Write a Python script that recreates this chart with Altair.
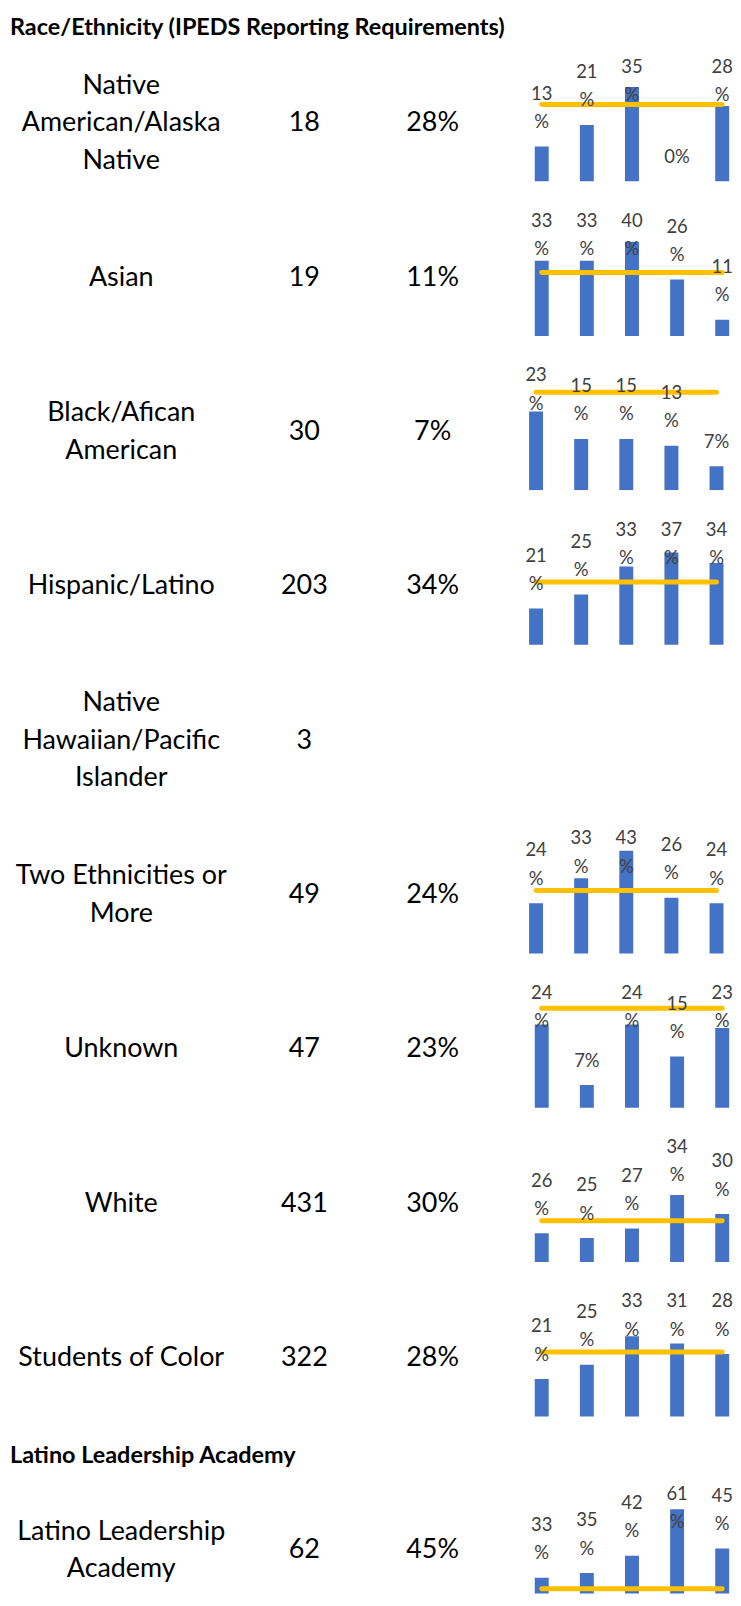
import altair as alt
import pandas as pd

# ---------------- data ----------------
YEARS = ["Y1", "Y2", "Y3", "Y4", "Y5"]
TITLE = "Race/Ethnicity (IPEDS Reporting Requirements)"
GROUPS = [
    "Native\nAmerican/Alaska\nNative",
    "Asian",
    "Black/Afican\nAmerican",
    "Hispanic/Latino",
    "Native\nHawaiian/Pacific\nIslander",
    "Two Ethnicities or\nMore",
    "Unknown",
    "White",
    "Students of Color",
]
COUNTS = [18, 19, 30, 203, 3, 49, 47, 431, 322]
PCTS = [28, 11, 7, 34, None, 24, 23, 30, 28]
RATES = [
    [13, 21, 35, 0, 28],
    [33, 33, 40, 26, 11],
    [23, 15, 15, 13, 7],
    [21, 25, 33, 37, 34],
    None,
    [24, 33, 43, 26, 24],
    [24, 7, 24, 15, 23],
    [26, 25, 27, 34, 30],
    [21, 25, 33, 31, 28],
]
OVERALL = 28.6

LLA_HEADER = "Latino Leadership Academy"
LLA_GROUP = "Latino Leadership\nAcademy"
LLA_COUNT = 62
LLA_PCT = 45
LLA_RATES = [33, 35, 42, 61, 45]

# ---------------- style / layout ----------------
FONT = "Lato"
BLUE = "#4472C4"
GOLD = "#FFC000"
LABEL_GRAY = "#404040"
ROW_H = 155
BAR_H = 136
COL_W = [227.4, 139.2, 116.8, 35.6]
BAR_W = 205.4
LH_MAIN = 37.5
LH_LAB = 28.5
HEADER_SIZE = 23.5
# per sparkline: value at the bottom edge of the cell, pixels per percentage point
YFIT = [(0, 2.71), (5, 2.70), (0, 3.44), (10.7, 3.52), None, (5.8, 2.77),
        (0.6, 3.57), (20, 4.82), (10.5, 3.58)]
# horizontal placement of the bar group inside its cell (band-scale align)
XALIGN = [0.78, 0.78, 0.22, 0.22, None, 0.22, 0.78, 0.78, 0.78]
LAST_H = 120.8
LLA_FIT = (26.6, 2.46)


def blank(width=1):
    df = pd.DataFrame({"t": [""]})
    return alt.Chart(df).mark_text().encode(text="t:N").properties(width=width, height=1)


def text_cell(text, width, height, extra_dy=0, size=27):
    n_lines = text.count("\n") + 1
    df = pd.DataFrame({"t": [text]})
    return (
        alt.Chart(df)
        .mark_text(font=FONT, fontSize=size, lineBreak="\n", lineHeight=LH_MAIN,
                   baseline="middle", align="center", color="black",
                   dy=-(n_lines - 1) * LH_MAIN / 2 + extra_dy)
        .encode(text="t:N")
        .properties(width=width, height=height)
    )


def header(text, height, dy):
    df = pd.DataFrame({"t": [text]})
    return (
        alt.Chart(df)
        .mark_text(font=FONT, fontSize=HEADER_SIZE, fontWeight="bold", baseline="middle",
                   align="left", color="black", dy=dy)
        .encode(text="t:N", x=alt.value(2))
        .properties(width=COL_W[0], height=height)
    )


def spark(rates, fit, height, xalign):
    dmin, k = fit
    dmax = dmin + height / k
    cap = dmax - 73.5 / k
    df = pd.DataFrame({"yr": YEARS, "v": rates, "avg": [OVERALL] * len(YEARS)})
    x = alt.X("yr:N", axis=None, sort=YEARS,
              scale=alt.Scale(paddingInner=0.691, paddingOuter=0.1125, align=xalign))
    ys = alt.Scale(domain=[dmin, dmax], nice=False, zero=False)
    base = alt.Chart(df)
    bars = base.mark_bar(color=BLUE, clip=True).encode(
        x=x, y=alt.Y("v:Q", axis=None, scale=ys))
    line = base.mark_line(color=GOLD, strokeWidth=5, strokeCap="round").encode(
        x=x, y=alt.Y("avg:Q", axis=None, scale=ys))
    lab_common = dict(font=FONT, fontSize=18.5, lineBreak="\n", lineHeight=LH_LAB,
                      baseline="middle", align="center", color=LABEL_GRAY)
    # two-line labels ("13" over "%") and single-line labels ("7%")
    two = (
        base.transform_filter("datum.v >= 10")
        .transform_calculate(ly=f"min(datum.v, {cap})", lab="datum.v + '\\n%'")
        .mark_text(dy=-53, **lab_common)
        .encode(x=x, y=alt.Y("ly:Q", axis=None, scale=ys), text="lab:N")
    )
    one = (
        base.transform_filter("datum.v < 10")
        .transform_calculate(lab="datum.v + '%'")
        .mark_text(dy=-24.5, **lab_common)
        .encode(x=x, y=alt.Y("v:Q", axis=None, scale=ys), text="lab:N")
    )
    return alt.layer(bars, line, two, one).properties(width=BAR_W, height=height)


cells = [header(TITLE, 28.5, -3), blank(), blank(), blank(COL_W[3]), blank()]
for i in range(len(GROUPS)):
    cells += [text_cell(GROUPS[i], COL_W[0], ROW_H),
              text_cell(str(COUNTS[i]), COL_W[1], ROW_H)]
    if PCTS[i] is not None:
        cells += [text_cell(f"{PCTS[i]}%", COL_W[2], ROW_H),
                  blank(),
                  spark(RATES[i], YFIT[i], BAR_H, XALIGN[i])]
    else:
        cells += [blank(), blank(), blank()]

cells += [header(LLA_HEADER, 37.7, 2), blank(), blank(), blank(), blank()]
dy_last = 77.5 - LAST_H / 2
cells += [
    text_cell(LLA_GROUP, COL_W[0], LAST_H, extra_dy=dy_last),
    text_cell(str(LLA_COUNT), COL_W[1], LAST_H, extra_dy=dy_last),
    text_cell(f"{LLA_PCT}%", COL_W[2], LAST_H, extra_dy=dy_last),
    blank(),
    spark(LLA_RATES, LLA_FIT, LAST_H, 0.78),
]

chart = (
    alt.concat(*cells, columns=5, spacing=0, bounds="flush", align="each")
    .properties(padding=0, background="white")
    .configure_view(stroke=None)
)

chart.save("out.html", embed_options={"renderer": "svg", "actions": False})
